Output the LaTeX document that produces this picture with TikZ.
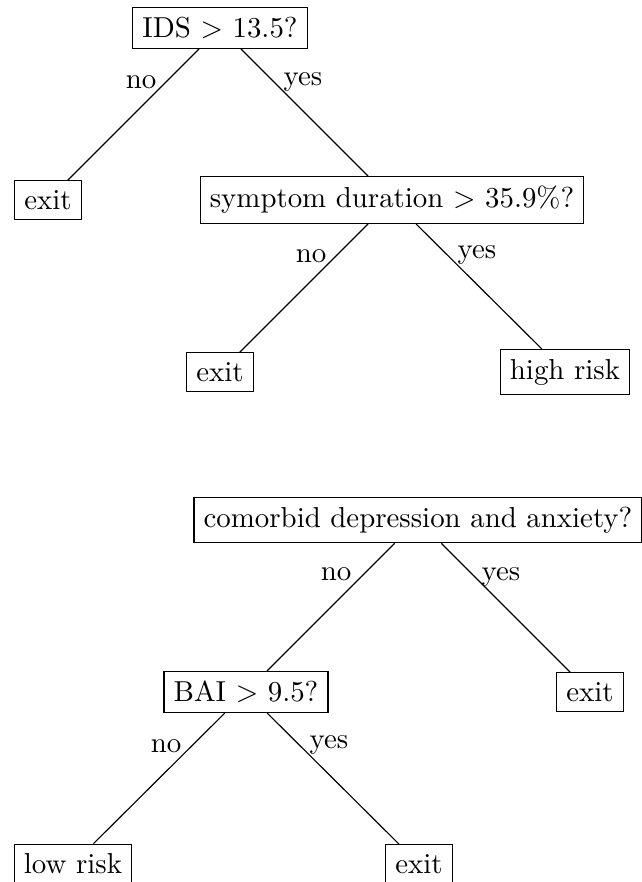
\documentclass[tikz,border=0pt]{standalone}
\usepackage{tikz}

\begin{document}
\begin{tikzpicture}[x=0.01218cm,y=-0.01218cm,
  box/.style={draw,rectangle},
  lbl/.style={anchor=base}]

  \useasboundingbox (0,0) rectangle (642,882);

  % first tree
  \draw (220,28) node[box] (ids) {IDS $>$ 13.5?};
\draw (48,200) node[box] (exita) {exit};
\draw (392,200) node[box] (symp) {symptom duration $>$ 35.9\%?};
\draw (220,372) node[box] (exitb) {exit};
\draw (565,372) node[box] (high) {high risk};

  \draw (ids) -- (exita);
  \draw (ids) -- (symp);
  \draw (symp) -- (exitb);
  \draw (symp) -- (high);

  \draw (141,88) node[lbl] (noa) {no};
  \draw (303,85) node[lbl] (yesa) {yes};
  \draw (311,262) node[lbl] (nob) {no};
  \draw (477,258) node[lbl] (yesb) {yes};

  % second tree
\draw (418,520) node[box] (cm) {comorbid depression and anxiety?};
\draw (246,692) node[box] (bai) {BAI $>$ 9.5?};
\draw (590,692) node[box] (exitc) {exit};
\draw (73,864) node[box] (low) {low risk};
\draw (419,864) node[box] (exitd) {exit};

  \draw (cm) -- (bai);
  \draw (cm) -- (exitc);
  \draw (bai) -- (low);
  \draw (bai) -- (exitd);

  \draw (336,580) node[lbl] (noc) {no};
  \draw (501,580) node[lbl] (yesc) {yes};
  \draw (166,752) node[lbl] (nod) {no};
  \draw (329,748) node[lbl] (yesd) {yes};

\end{tikzpicture}
\end{document}
